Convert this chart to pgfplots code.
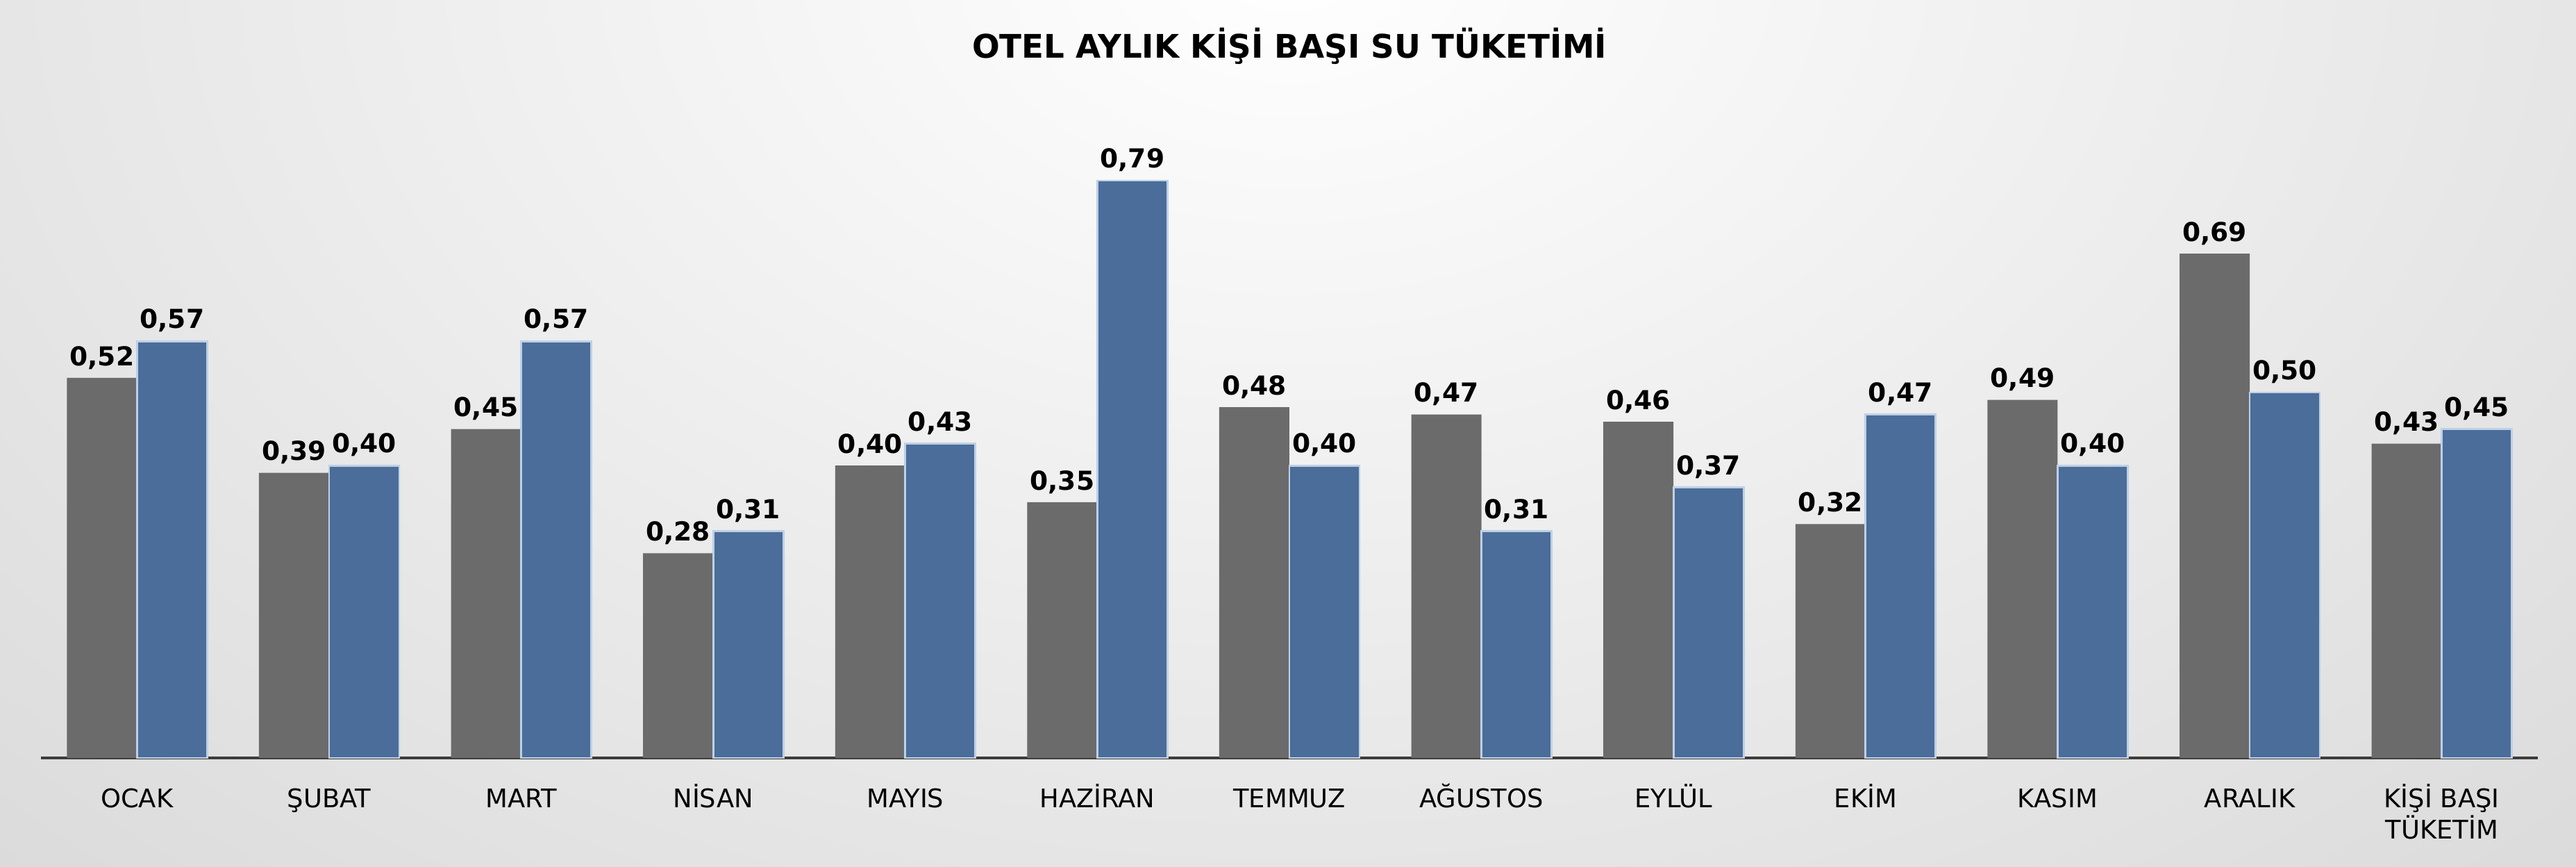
\documentclass[border=0pt]{standalone}
\usepackage{fontspec}
\setmainfont{DejaVu Sans}
\usepackage{pgfplots}
\usepackage{pgfplotstable}
\pgfplotsset{compat=1.18}
\definecolor{bargray}{RGB}{107,107,107}
\definecolor{barblue}{RGB}{74,109,153}
\definecolor{bluerim}{RGB}{190,208,230}
\definecolor{bgedge}{RGB}{194,194,194}
\definecolor{axisline}{RGB}{60,60,60}

% idx: 0 = OCAK ... 11 = ARALIK, 12 = KİŞİ BAŞI TÜKETİM
\pgfplotstableread{
idx a    b
0   0.52 0.57
1   0.39 0.40
2   0.45 0.57
3   0.28 0.31
4   0.40 0.43
5   0.35 0.79
6   0.48 0.40
7   0.47 0.31
8   0.46 0.37
9   0.32 0.47
10  0.49 0.40
11  0.69 0.50
12  0.43 0.45
}\sutable

\begin{document}
\begin{tikzpicture}
\useasboundingbox (-0.59,-1.56) rectangle (36.51,10.91);
\begin{scope}
  \clip (-0.59,-1.56) rectangle (36.51,10.91);
  \shade[inner color=white, outer color=bgedge] (17.96,11.5) ellipse (45cm and 31cm);
\end{scope}
\begin{axis}[
    scale only axis,
    width=35.96cm, height=10.52cm,
    xmin=-0.5, xmax=12.5, ymin=0, ymax=1,
    ybar=0pt, bar width=1.01cm,
    axis x line*=bottom, axis y line=none,
    x axis line style={axisline, line width=1.3pt, -},
    xtick={0,...,12},
    xticklabels={OCAK,ŞUBAT,MART,NİSAN,MAYIS,HAZİRAN,TEMMUZ,AĞUSTOS,EYLÜL,EKİM,KASIM,ARALIK,
        {\begin{tabular}[t]{@{}c@{}}KİŞİ BAŞI\\TÜKETİM\end{tabular}}},
    xticklabel style={font=\fontsize{10.5}{11}\selectfont, anchor=base, yshift=-0.71cm},
    major tick length=0pt,
    nodes near coords={\pgfmathprintnumber[fixed,fixed zerofill,precision=2,use comma,assume math mode=true]{\pgfplotspointmeta}},
    every node near coord/.append style={font=\bfseries\fontsize{10.7}{12}\selectfont, black},
    clip=false,
]
\addplot[fill=bargray, draw=none] table[x=idx, y=a] {\sutable};
\addplot[fill=barblue, draw=bluerim, line width=0.8pt] table[x=idx, y=b] {\sutable};
\end{axis}
\node[font=\bfseries\fontsize{13.3}{15}\selectfont] at (17.98,10.25) {OTEL AYLIK KİŞİ BAŞI SU TÜKETİMİ};
\end{tikzpicture}
\end{document}
